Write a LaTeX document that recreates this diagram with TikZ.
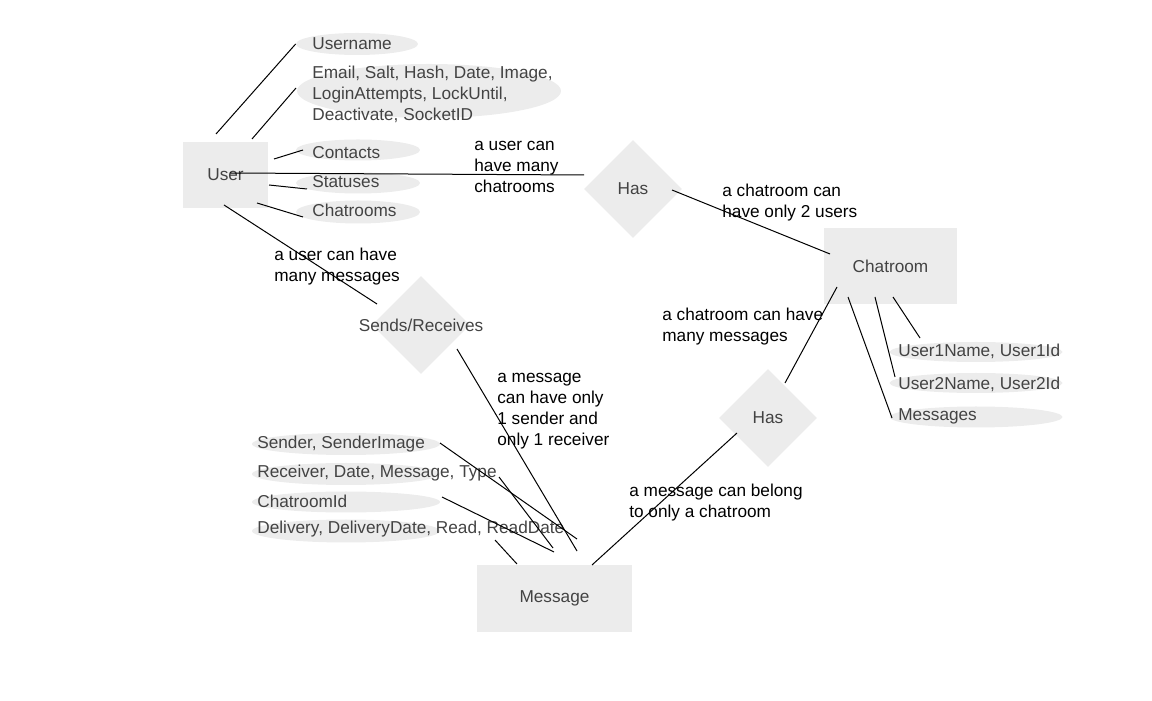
\documentclass[tikz,border=0pt]{standalone}
\usepackage{fontspec}
\setmainfont{Liberation Sans}
\usetikzlibrary{shapes.geometric}
\definecolor{shapefill}{RGB}{236,236,236}
\definecolor{shapetext}{RGB}{67,67,67}
\begin{document}
\begin{tikzpicture}[
    entity/.style={rectangle, fill=shapefill, text=shapetext, inner sep=0pt},
    relation/.style={diamond, fill=shapefill, text=shapetext, minimum width=1.96cm, minimum height=1.96cm, inner sep=0pt},
    attrib/.style={ellipse, fill=shapefill, inner sep=0pt},
    attribtext/.style={anchor=west, text=shapetext, inner sep=0pt, align=left},
    note/.style={anchor=west, inner sep=0pt, align=left},
    link/.style={line width=0.02cm}]
                \useasboundingbox (0.000000,0.000000) rectangle (23.040000,14.000000);
                {\fontsize{9.8}{11.9}\selectfont
                
                % Drawing entity User
                \draw (4.510000,10.500000) node [entity, minimum width=1.70cm, minimum height=1.32cm] (user) { User };%
                
                % Drawing entity Chatroom
                \draw (17.810000,8.680000) node [entity, minimum width=2.66cm, minimum height=1.52cm] (chatroom) { Chatroom };%
                
                % Drawing entity Message
                \draw (11.090000,2.030000) node [entity, minimum width=3.10cm, minimum height=1.34cm] (message) { Message };%
                
                % Drawing relation Has (user, chatroom)
                \draw (12.660000,10.220000) node [relation] (hasroom) { Has };%
                
                % Drawing relation Has (chatroom, message)
                \draw (15.360000,5.640000) node [relation] (hasmsg) { Has };%
                
                % Drawing relation Sends/Receives
                \draw (8.420000,7.500000) node [relation, label={[text=shapetext]center:Sends/Receives}] (sends) {};%
                
                % Drawing attributes of User
                \draw (7.140000,13.120000) node [attrib, minimum width=2.44cm, minimum height=0.44cm] (uname) {};%
                \draw (8.580000,12.180000) node [attrib, minimum width=5.28cm, minimum height=1.08cm] (uinfo) {};%
                \draw (7.160000,11.000000) node [attrib, minimum width=2.48cm, minimum height=0.42cm] (ucont) {};%
                \draw (7.160000,10.340000) node [attrib, minimum width=2.48cm, minimum height=0.42cm] (ustat) {};%
                \draw (7.160000,9.760000) node [attrib, minimum width=2.48cm, minimum height=0.46cm] (uchat) {};%
                \draw (6.240000,13.120000) node [attribtext] (unamet) { Username };%
                \draw (6.240000,12.120000) node [attribtext] (uinfot) { Email, Salt, Hash, Date, Image,\\ LoginAttempts, LockUntil,\\ Deactivate, SocketID };%
                \draw (6.240000,10.940000) node [attribtext] (ucontt) { Contacts };%
                \draw (6.240000,10.360000) node [attribtext] (ustatt) { Statuses };%
                \draw (6.240000,9.800000) node [attribtext] (uchatt) { Chatrooms };%
                
                % Drawing attributes of Chatroom
                \draw (19.520000,6.960000) node [attrib, minimum width=3.46cm, minimum height=0.40cm] (cuser1) {};%
                \draw (19.520000,6.340000) node [attrib, minimum width=3.46cm, minimum height=0.40cm] (cuser2) {};%
                \draw (19.520000,5.660000) node [attrib, minimum width=3.46cm, minimum height=0.42cm] (cmsgs) {};%
                \draw (17.960000,6.980000) node [attribtext] (cuser1t) { User1Name, User1Id };%
                \draw (17.960000,6.320000) node [attribtext] (cuser2t) { User2Name, User2Id };%
                \draw (17.960000,5.680000) node [attribtext] (cmsgst) { Messages };%
                
                % Drawing attributes of Message
                \draw (6.920000,5.120000) node [attrib, minimum width=3.76cm, minimum height=0.44cm] (msender) {};%
                \draw (6.920000,4.520000) node [attrib, minimum width=3.76cm, minimum height=0.44cm] (mrecv) {};%
                \draw (6.920000,3.960000) node [attrib, minimum width=3.76cm, minimum height=0.42cm] (mroom) {};%
                \draw (6.920000,3.380000) node [attrib, minimum width=3.76cm, minimum height=0.46cm] (mdeliv) {};%
                \draw (5.140000,5.120000) node [attribtext] (msendert) { Sender, SenderImage };%
                \draw (5.140000,4.540000) node [attribtext] (mrecvt) { Receiver, Date, Message, Type };%
                \draw (5.140000,3.980000) node [attribtext] (mroomt) { ChatroomId };%
                \draw (5.140000,3.420000) node [attribtext] (mdelivt) { Delivery, DeliveryDate, Read, ReadDate };%
                
                % Drawing lines User attributes
                \draw [link] ([shift={(-0.19,0.82)}]user.center) -- (uname.west);%
                \draw [link] ([shift={(0.53,0.72)}]user.center) -- ([shift={(-2.66,0.06)}]uinfo.center);%
                \draw [link] ([shift={(0.97,0.32)}]user.center) -- ([shift={(-1.10,0.00)}]ucont.center);%
                \draw [link] ([shift={(0.87,-0.20)}]user.center) -- ([shift={(-1.02,-0.12)}]ustat.center);%
                \draw [link] ([shift={(0.63,-0.56)}]user.center) -- ([shift={(-1.10,-0.10)}]uchat.center);%
                
                % Drawing line User Has Chatroom
                \draw [link] ([shift={(0.09,0.04)}]user.center) -- ([shift={(-0.98,0.28)}]hasroom.center);%
                \draw [link] ([shift={(0.78,-0.02)}]hasroom.center) -- ([shift={(-1.21,0.24)}]chatroom.center);%
                
                % Drawing lines Chatroom attributes
                \draw [link] ([shift={(0.05,-0.62)}]chatroom.center) -- ([shift={(-1.12,0.28)}]cuser1.center);%
                \draw [link] ([shift={(-0.31,-0.62)}]chatroom.center) -- ([shift={(-1.62,0.12)}]cuser2.center);%
                \draw [link] ([shift={(-0.85,-0.62)}]chatroom.center) -- ([shift={(-1.68,-0.02)}]cmsgs.center);%
                
                % Drawing line Chatroom Has Message
                \draw [link] ([shift={(-1.07,-0.42)}]chatroom.center) -- ([shift={(0.34,0.70)}]hasmsg.center);%
                \draw [link] ([shift={(-0.62,-0.30)}]hasmsg.center) -- ([shift={(0.75,0.67)}]message.center);%
                
                % Drawing line User Sends/Receives Message
                \draw [link] ([shift={(-0.03,-0.60)}]user.center) -- ([shift={(-0.88,0.42)}]sends.center);%
                \draw [link] ([shift={(0.72,-0.48)}]sends.center) -- ([shift={(0.45,0.95)}]message.center);%
                
                % Drawing lines Message attributes
                \draw [link] ([shift={(1.88,0.02)}]msender.center) -- ([shift={(0.45,1.19)}]message.center);%
                \draw [link] ([shift={(3.06,-0.06)}]mrecv.center) -- ([shift={(-0.03,1.01)}]message.center);%
                \draw [link] ([shift={(1.92,0.10)}]mroom.center) -- ([shift={(-0.01,0.93)}]message.center);%
                \draw [link] ([shift={(2.98,-0.18)}]mdeliv.center) -- ([shift={(-0.75,0.69)}]message.center);%
                
                % Marking cardinality notes
                \draw (9.480000,10.660000) node [note] (noteuserroom) { a user can\\ have many\\ chatrooms };%
                \draw (14.440000,9.940000) node [note] (noteroomuser) { a chatroom can\\ have only 2 users };%
                \draw (5.480000,8.670000) node [note] (noteusermsg) { a user can have\\ many messages };%
                \draw (9.940000,5.780000) node [note] (notemsguser) { a message\\ can have only\\ 1 sender and\\ only 1 receiver };%
                \draw (13.240000,7.470000) node [note] (noteroommsg) { a chatroom can have\\ many messages };%
                \draw (12.580000,3.950000) node [note] (notemsgroom) { a message can belong\\ to only a chatroom };%
                }
\end{tikzpicture}
\end{document}
